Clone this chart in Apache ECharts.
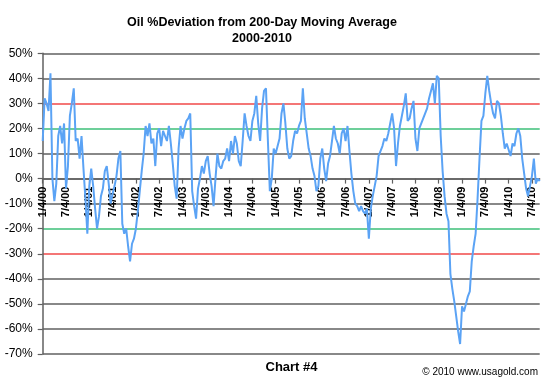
<!DOCTYPE html>
<html><head><meta charset="utf-8">
<script src="https://cdn.jsdelivr.net/npm/echarts@6/dist/echarts.min.js"></script>
<style>html,body{margin:0;padding:0;background:#fff;}#c{width:553px;height:382px;}</style>
</head><body><div id="c"></div>
<script>
const titleLine1 = 'Oil %Deviation from 200-Day Moving Average';
const titleLine2 = '2000-2010';
const footerLabel = 'Chart #4';
const copyright = '\u00a9 2010 www.usagold.com';
const tickLabels = ['1/4/00','7/4/00','1/4/01','7/4/01','1/4/02','7/4/02','1/4/03','7/4/03','1/4/04','7/4/04','1/4/05','7/4/05','1/4/06','7/4/06','1/4/07','7/4/07','1/4/08','7/4/08','1/4/09','7/4/09','1/4/10','7/4/10'];
// % deviation, sampled twice a month (4th and 19th) from 1/4/00
const deviation = [
 15, 32, 30, 27, 42, 0, -9, -2, 17, 21, 14, 22,
 -4, 5, 25, 30, 36, 15, 16, 8, 17, 4, -8, -22,
 -3, 4, -3, -12, -20, -15, -7, -4, 3, 5, -2, -10,
 -6, -3, 1, 8, 11, -18, -22, -20, -27, -33, -26, -24,
 -20, -13, -5, 3, 10, 21, 17, 22, 14, 16, 5, 18,
 20, 13, 19, 17, 15, 21, 14, 6, -3, -8, 12, 21,
 16, 20, 23, 24, 26, -5, -11, -16, -4, 0, 5, 2,
 7, 9, 2, -3, -11, 0, 10, 5, 4, 7, 8, 12,
 7, 15, 10, 17, 14, 7, 5, 15, 26, 21, 17, 15,
 23, 26, 33, 22, 15, 28, 35, 36, 15, -5, 0, 12,
 10, 13, 16, 26, 30, 22, 12, 8, 9, 15, 19, 18,
 21, 23, 36, 24, 18, 12, 9, 4, 1, -5, -3, 8,
 12, 4, -1, 6, 9, 15, 21, 16, 14, 10, 18, 20,
 15, 21, 11, 2, -5, -10, -11, -13, -11, -13, -14, -12,
 -24, -12, -7, -3, 1, 9, 9, 13, 16, 15, 18, 22,
 26, 20, 5, 14, 21, 25, 29, 34, 23, 24, 28, 31,
 16, 11, 20, 22, 24, 26, 28, 32, 35, 38, 30, 41,
 40, 17, 3, -7, -14, -17, -38, -44, -49, -55, -61, -66,
 -51, -53, -50, -47, -45, -33, -27, -22, -8, 8, 23, 25,
 34, 41, 35, 30, 26, 24, 31, 30, 25, 18, 12, 14,
 14, 9, 14, 13, 18, 20, 17, 8, 2, -4, -7, -3,
 1, 8, -2, 0, -1
];
const categories = [];
for (let k = 0; k < deviation.length; k++) {
  const yr = Math.floor(k / 24), m = Math.floor((k % 24) / 2) + 1, d = (k % 2) ? 19 : 4;
  categories.push(m + '/' + d + '/' + String(yr).padStart(2, '0'));
}
const FONT = "'Liberation Sans', Arial, sans-serif";
const GRAY = '#606060';
const Y_MIN = -70, Y_MAX = 50;
const GRID_TOP = 53.3, GRID_BOTTOM = 28, H = 382;
const plotH = H - GRID_TOP - GRID_BOTTOM;
const zeroOffset = -plotH * (0 - Y_MIN) / (Y_MAX - Y_MIN);
const chart = echarts.init(document.getElementById('c'), null, {renderer: 'canvas'});
chart.setOption({
  animation: false,
  backgroundColor: '#fff',
  grid: {left: 42.7, right: 13.3, top: GRID_TOP, bottom: GRID_BOTTOM, containLabel: false, outerBoundsMode: 'none'},
  xAxis: {
    type: 'category', data: categories, boundaryGap: false, offset: zeroOffset,
    axisLine: {onZero: false, lineStyle: {color: GRAY, width: 1.5}},
    axisTick: {show: true, interval: 11, length: 5, lineStyle: {color: GRAY, width: 1.2}},
    axisLabel: {interval: 11, rotate: 90, margin: 8, color: '#000', fontWeight: 'bold', fontSize: 11, fontFamily: FONT,
      hideOverlap: false, formatter: (v, i) => tickLabels[Math.round(i / 12)] || ''},
    splitLine: {show: false}
  },
  yAxis: {
    type: 'value', min: Y_MIN, max: Y_MAX, interval: 10,
    axisLine: {show: true, onZero: false, lineStyle: {color: GRAY, width: 1.5}},
    axisTick: {show: true, length: 5, lineStyle: {color: GRAY, width: 1.2}},
    axisLabel: {formatter: '{value}%', color: '#000', fontSize: 12, fontFamily: FONT, margin: 10},
    splitLine: {show: true, showMinLine: true, showMaxLine: true, lineStyle: {width: 1.5,
      color: [GRAY, GRAY, GRAY, GRAY, '#f04848', '#3cbf78', GRAY, GRAY, GRAY, '#3cbf78', '#f04848', GRAY, GRAY]}}
  },
  series: [{
    type: 'line', data: deviation, showSymbol: false, symbol: 'none',
    lineStyle: {color: '#5ba3f5', width: 2}, z: 3
  }],
  graphic: [
    {type: 'text', x: 262, y: 23, style: {text: titleLine1, textAlign: 'center', textVerticalAlign: 'middle', fontWeight: 'bold', fontSize: 12.5, fontFamily: FONT, fill: '#000'}},
    {type: 'text', x: 262, y: 39, style: {text: titleLine2, textAlign: 'center', textVerticalAlign: 'middle', fontWeight: 'bold', fontSize: 12.5, fontFamily: FONT, fill: '#000'}},
    {type: 'text', x: 291.5, y: 367, style: {text: footerLabel, textAlign: 'center', textVerticalAlign: 'middle', fontWeight: 'bold', fontSize: 13, fontFamily: FONT, fill: '#000'}},
    {type: 'text', x: 538, y: 372, style: {text: copyright, textAlign: 'right', textVerticalAlign: 'middle', fontSize: 10, fontFamily: FONT, fill: '#000'}}
  ]
});
</script></body></html>
